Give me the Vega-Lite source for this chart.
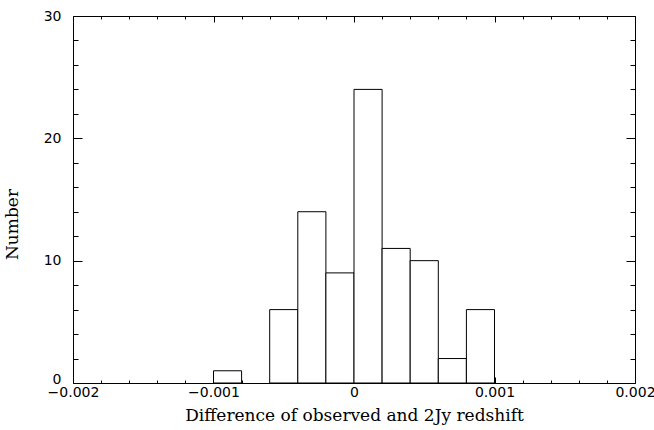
{
  "$schema": "https://vega.github.io/schema/vega-lite/v6.json",
  "width": 562,
  "height": 367,
  "autosize": {"type": "none"},
  "padding": {"left": 73, "top": 16, "right": 19, "bottom": 47},
  "background": "white",
  "config": {
    "view": {"stroke": null},
    "axis": {
      "domainColor": "black",
      "tickColor": "black",
      "labelColor": "black",
      "titleColor": "black",
      "grid": false,
      "labelFont": "DejaVu Sans",
      "titleFont": "DejaVu Serif",
      "titleFontWeight": "normal",
      "domainWidth": 1,
      "tickWidth": 1
    }
  },
  "data": {
    "values": [
      {"bin_start": -0.001, "bin_end": -0.0008, "count": 1},
      {"bin_start": -0.0006, "bin_end": -0.0004, "count": 6},
      {"bin_start": -0.0004, "bin_end": -0.0002, "count": 14},
      {"bin_start": -0.0002, "bin_end": 0, "count": 9},
      {"bin_start": 0, "bin_end": 0.0002, "count": 24},
      {"bin_start": 0.0002, "bin_end": 0.0004, "count": 11},
      {"bin_start": 0.0004, "bin_end": 0.0006, "count": 10},
      {"bin_start": 0.0006, "bin_end": 0.0008, "count": 2},
      {"bin_start": 0.0008, "bin_end": 0.001, "count": 6}
    ]
  },
  "layer": [
    {
      "mark": {"type": "rect", "fill": "white", "stroke": "black", "strokeWidth": 1},
      "encoding": {
        "x": {
          "field": "bin_start", "type": "quantitative",
          "scale": {"domain": [-0.002, 0.002], "nice": false, "zero": false},
          "axis": {
            "orient": "bottom",
            "values": [-0.002, -0.0018, -0.0016, -0.0014, -0.0012, -0.001, -0.0008, -0.0006, -0.0004, -0.0002, 0, 0.0002, 0.0004, 0.0006, 0.0008, 0.001, 0.0012, 0.0014, 0.0016, 0.0018, 0.002],
            "tickSize": {"condition": {"test": "abs(datum.value*1000 - round(datum.value*1000)) < 1e-6", "value": -6}, "value": -3},
            "labelExpr": "abs(datum.value*1000 - round(datum.value*1000)) < 1e-6 ? (datum.value === 0 ? '0' : format(datum.value, '.3f')) : ''",
            "labelFontSize": 14,
            "labelPadding": 8,
            "labelFlush": false,
            "labelOverlap": false,
            "title": "Difference of observed and 2Jy redshift",
            "titleFontSize": 17,
            "titlePadding": 5
          }
        },
        "x2": {"field": "bin_end"},
        "y": {
          "field": "count", "type": "quantitative",
          "scale": {"domain": [0, 30], "nice": false},
          "axis": {
            "orient": "left",
            "values": [0, 2, 4, 6, 8, 10, 12, 14, 16, 18, 20, 22, 24, 26, 28, 30],
            "tickSize": {"condition": {"test": "datum.value % 10 === 0", "value": -9}, "value": -5},
            "labelExpr": "datum.value % 10 === 0 ? datum.label : ''",
            "labelBaseline": {"condition": {"test": "datum.value === 0", "value": "alphabetic"}, "value": "middle"},
            "labelFontSize": 14,
            "labelPadding": 21,
            "labelOverlap": false,
            "labelFlush": false,
            "title": "Number",
            "titleFontSize": 17,
            "titlePadding": 22,
            "titleY": 208
          }
        },
        "y2": {"datum": 0}
      }
    },
    {
      "mark": {"type": "rect", "opacity": 0},
      "encoding": {
        "x": {
          "field": "bin_start", "type": "quantitative",
          "axis": {
            "orient": "top",
            "values": [-0.002, -0.0018, -0.0016, -0.0014, -0.0012, -0.001, -0.0008, -0.0006, -0.0004, -0.0002, 0, 0.0002, 0.0004, 0.0006, 0.0008, 0.001, 0.0012, 0.0014, 0.0016, 0.0018, 0.002],
            "tickSize": {"condition": {"test": "abs(datum.value*1000 - round(datum.value*1000)) < 1e-6", "value": -6}, "value": -3},
            "labels": false,
            "title": null
          }
        },
        "x2": {"field": "bin_end"},
        "y": {
          "field": "count", "type": "quantitative",
          "axis": {
            "orient": "right",
            "values": [0, 2, 4, 6, 8, 10, 12, 14, 16, 18, 20, 22, 24, 26, 28, 30],
            "tickSize": {"condition": {"test": "datum.value % 10 === 0", "value": -9}, "value": -5},
            "labels": false,
            "title": null
          }
        },
        "y2": {"datum": 0}
      }
    }
  ],
  "resolve": {"axis": {"x": "independent", "y": "independent"}}
}
